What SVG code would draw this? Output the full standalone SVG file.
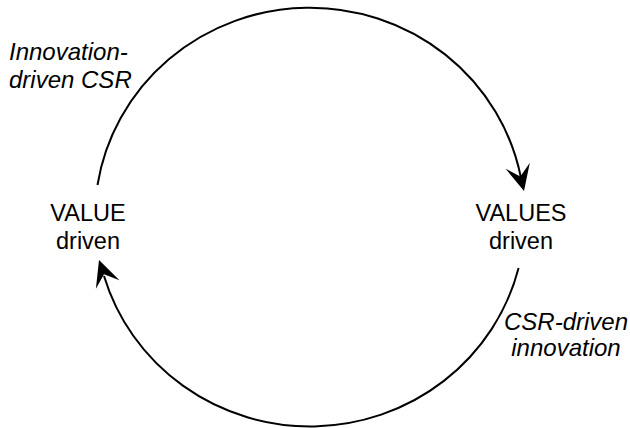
<svg xmlns="http://www.w3.org/2000/svg" width="630" height="428" viewBox="0 0 630 428">
<style>
.lbl{font-family:"Liberation Sans",Arial,sans-serif;font-size:23.5px;fill:#000}
.it{font-style:italic;font-size:24px}
.arc{fill:none;stroke:#000;stroke-width:2}
</style>
<defs>
<path id="ah" d="M0,0 L-26,-12.5 L-15,0 L-26,12.5 Z" fill="#000"/>
</defs>
<rect width="630" height="428" fill="#fff"/>
<g id="connectors">
<path class="arc" d="M97.5,185 A215,210 0 0 1 521,178"/>
<use href="#ah" transform="translate(524,191) rotate(76)"/>
<path class="arc" d="M518.6,268 A215,210 0 0 1 104,276"/>
<use href="#ah" transform="translate(99,260) rotate(250.5)"/>
</g>
<g id="value">
<text class="lbl" x="88" y="221" text-anchor="middle">VALUE</text>
<text class="lbl" x="88" y="248.5" text-anchor="middle">driven</text>
</g>
<g id="values">
<text class="lbl" x="521" y="221" text-anchor="middle">VALUES</text>
<text class="lbl" x="521" y="248.5" text-anchor="middle">driven</text>
</g>
<g id="innovation-driven">
<text class="lbl it" x="9" y="59.5">Innovation-</text>
<text class="lbl it" x="9" y="87.5">driven CSR</text>
</g>
<g id="csr-driven">
<text class="lbl it" x="566" y="329.5" text-anchor="middle">CSR-driven</text>
<text class="lbl it" x="566" y="356" text-anchor="middle">innovation</text>
</g>
</svg>
